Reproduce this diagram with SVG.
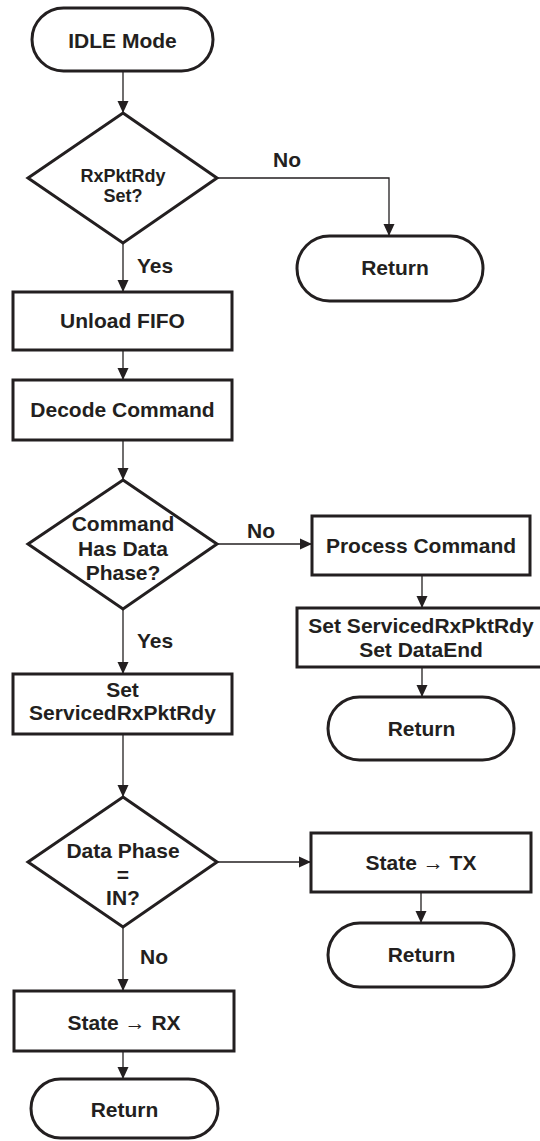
<svg xmlns="http://www.w3.org/2000/svg" width="540" height="1141" viewBox="0 0 540 1141">
<style>
.shape{fill:#fff;stroke:#231f20;stroke-width:3;stroke-linejoin:miter}
.t{font-family:"Liberation Sans",Arial,sans-serif;font-weight:bold;font-size:21px;fill:#231f20;text-anchor:middle}
.s{font-size:18px}
.lbl{font-family:"Liberation Sans",Arial,sans-serif;font-weight:bold;font-size:21px;fill:#231f20}
.c{fill:none;stroke:#231f20;stroke-width:1.3;marker-end:url(#arr)}
</style>
<defs>
<marker id="arr" markerUnits="userSpaceOnUse" markerWidth="12" markerHeight="12" refX="12" refY="6" orient="auto">
<path d="M0,0.5 L12,6 L0,11.5 z" fill="#231f20"/>
</marker>
</defs>
<rect width="540" height="1141" fill="#fff"/>
<g id="connectors">
<path class="c" d="M123,71 V113"/>
<path class="c" d="M123,243 V292"/>
<path class="c" d="M217,178 H389 V236"/>
<path class="c" d="M123,350 V380"/>
<path class="c" d="M123,440 V480"/>
<path class="c" d="M217,544 H312"/>
<path class="c" d="M422,575 V608"/>
<path class="c" d="M422,667 V697"/>
<path class="c" d="M123,609 V674"/>
<path class="c" d="M123,734 V797"/>
<path class="c" d="M217,862 H311"/>
<path class="c" d="M421,892 V923"/>
<path class="c" d="M123,927 V991"/>
<path class="c" d="M123,1051 V1079"/>
<text class="lbl" x="137" y="273">Yes</text>
<text class="lbl" x="273" y="167">No</text>
<text class="lbl" x="247" y="538">No</text>
<text class="lbl" x="137" y="648">Yes</text>
<text class="lbl" x="140" y="964">No</text>
</g>
<g id="idle">
<rect class="shape" x="32" y="8" width="181" height="63" rx="31.5"/>
<text class="t" x="122.5" y="48">IDLE Mode</text>
</g>
<g id="d1">
<polygon class="shape" points="123,113 217,178 123,243 28,178"/>
<text class="t s" x="123" y="182">RxPktRdy</text>
<text class="t s" x="123" y="202">Set?</text>
</g>
<g id="ret1">
<rect class="shape" x="297" y="236" width="186" height="65" rx="32.5"/>
<text class="t" x="395" y="275">Return</text>
</g>
<g id="unload">
<rect class="shape" x="13" y="292" width="219" height="58"/>
<text class="t" x="122.5" y="328">Unload FIFO</text>
</g>
<g id="decode">
<rect class="shape" x="13" y="380" width="219" height="60"/>
<text class="t" x="122.5" y="417">Decode Command</text>
</g>
<g id="d2">
<polygon class="shape" points="123,480 217,544 123,609 28,544"/>
<text class="t" x="123" y="531">Command</text>
<text class="t" x="123" y="556">Has Data</text>
<text class="t" x="123" y="580">Phase?</text>
</g>
<g id="process">
<rect class="shape" x="312" y="516" width="218" height="59"/>
<text class="t" x="421" y="553">Process Command</text>
</g>
<g id="setend">
<rect class="shape" x="297" y="608" width="250" height="59"/>
<text class="t" x="421" y="633">Set ServicedRxPktRdy</text>
<text class="t" x="421" y="657">Set DataEnd</text>
</g>
<g id="ret2">
<rect class="shape" x="328" y="697" width="186" height="63" rx="31.5"/>
<text class="t" x="421.5" y="736">Return</text>
</g>
<g id="setsrv">
<rect class="shape" x="13" y="674" width="219" height="60"/>
<text class="t" x="122.5" y="697">Set</text>
<text class="t" x="122.5" y="720">ServicedRxPktRdy</text>
</g>
<g id="d3">
<polygon class="shape" points="123,797 217,862 123,927 28,862"/>
<text class="t" x="123" y="858">Data Phase</text>
<text class="t" x="123" y="882">=</text>
<text class="t" x="123" y="905">IN?</text>
</g>
<g id="tx">
<rect class="shape" x="311" y="833" width="220" height="59"/>
<text class="t" x="421" y="870">State → TX</text>
</g>
<g id="ret3">
<rect class="shape" x="328" y="923" width="186" height="64" rx="32"/>
<text class="t" x="421.5" y="962">Return</text>
</g>
<g id="rx">
<rect class="shape" x="14" y="991" width="220" height="60"/>
<text class="t" x="124" y="1030">State → RX</text>
</g>
<g id="ret4">
<rect class="shape" x="31" y="1079" width="187" height="59" rx="29.5"/>
<text class="t" x="124.5" y="1117">Return</text>
</g>
</svg>
